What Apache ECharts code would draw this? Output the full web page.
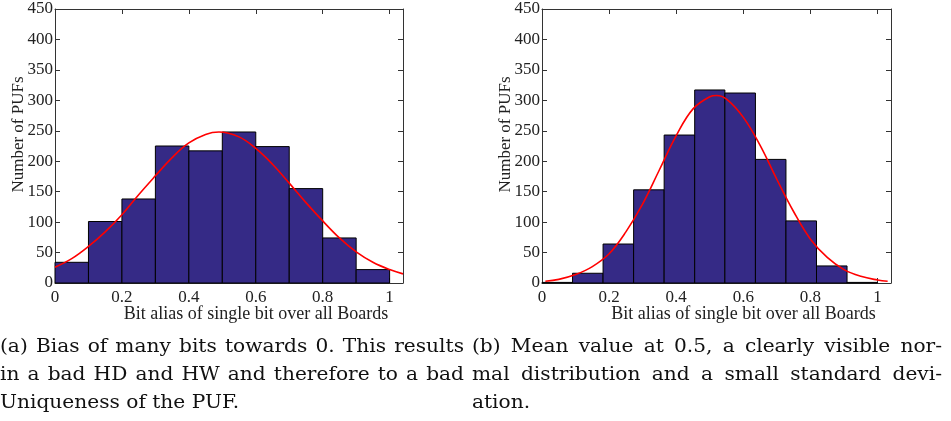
<!DOCTYPE html>
<html>
<head>
<meta charset="utf-8">
<title>Bit alias histograms</title>
<script src="https://cdn.jsdelivr.net/npm/echarts@6/dist/echarts.min.js"></script>
<style>
  html, body { margin: 0; padding: 0; background: #fff; }
  #chart { width: 951px; height: 421px; }
</style>
</head>
<body>
<div id="chart"></div>
<script>
// histogram (a): 10 bins of width 0.1
const binEdgesA = [0, 0.1, 0.2, 0.3, 0.4, 0.5, 0.6, 0.7, 0.8, 0.9, 1.0];
const countsA = [34, 101, 138, 225, 217, 248, 224, 155, 74, 22];
// fitted curve (a)
const curveAX = [0, 0.05, 0.1, 0.15, 0.2, 0.25, 0.3, 0.35, 0.4, 0.45, 0.49, 0.55, 0.6, 0.65, 0.7, 0.75, 0.8, 0.85, 0.9, 0.95, 1.0, 1.04];
const curveAY = [26, 40, 60, 84, 112, 145, 176, 206, 230, 244, 248, 240, 221, 195, 164, 132, 102, 74, 51, 34, 22, 15];

// histogram (b): 11 bins
const binEdgesB = [0, 0.091, 0.182, 0.273, 0.364, 0.455, 0.545, 0.636, 0.727, 0.818, 0.909, 1.0];
const countsB = [1, 16, 64, 153, 243, 317, 312, 203, 102, 28, 1];
// fitted curve (b)
const curveBX = [0.01, 0.05, 0.1, 0.15, 0.2, 0.25, 0.3, 0.35, 0.4, 0.45, 0.5, 0.52, 0.55, 0.6, 0.65, 0.7, 0.75, 0.8, 0.85, 0.9, 0.95, 1.0, 1.03];
const curveBY = [3, 6, 14, 27, 48, 84, 130, 186, 242, 286, 306, 308, 302, 272, 226, 170, 117, 72, 42, 22, 11, 5, 3];

const xTicks = { min: 0, max: 1.04, interval: 0.2 };
const yTicks = { min: 0, max: 450, interval: 50 };

const xName = 'Bit alias of single bit over all Boards';
const yName = 'Number of PUFs';
const captionA = ['(a) Bias of many bits towards 0.  This results', 'in a bad HD and HW and therefore to a bad', 'Uniqueness of the PUF.'];
const captionB = ['(b) Mean value at 0.5, a clearly visible nor-', 'mal distribution and a small standard devi-', 'ation.'];

const barColor = '#352a86';
const frameColor = '#333';
const serif = 'Liberation Serif';
const captionFont = '18px "DejaVu Serif"';
const captionStretch = 1.12; // the caption glyphs are wider than DejaVu at this height

function toBins(edges, counts) {
  return counts.map((c, i) => [edges[i], edges[i + 1], c]);
}
function toPoints(xs, ys) {
  return xs.map((x, i) => [x, ys[i]]);
}

function renderBar(params, api) {
  const p0 = api.coord([api.value(0), 0]);
  const p1 = api.coord([api.value(1), api.value(2)]);
  return {
    type: 'rect',
    shape: { x: p0[0], y: p1[1], width: p1[0] - p0[0], height: p0[1] - p1[1] },
    style: { fill: barColor, stroke: '#000', lineWidth: 1 }
  };
}

// bottom/left axes carry labels, top/right ones only close the box
function makeXAxis(gridIndex, bottom) {
  return Object.assign({
    type: 'value', gridIndex: gridIndex, position: bottom ? 'bottom' : 'top',
    axisLine: { show: true, onZero: false, lineStyle: { color: frameColor, width: 1 } },
    axisTick: { show: true, inside: true, length: 5, lineStyle: { color: frameColor } },
    splitLine: { show: false },
    axisLabel: {
      show: bottom, margin: 6, color: '#222', fontFamily: serif, fontSize: 17,
      formatter: v => (v > 1.01 ? '' : String(v))
    },
    name: bottom ? xName : '', nameLocation: 'middle', nameGap: 22, nameMoveOverlap: false,
    nameTextStyle: { color: '#222', fontFamily: serif, fontSize: 18, padding: [0, 0, 0, 54] }
  }, xTicks);
}
function makeYAxis(gridIndex, left) {
  return Object.assign({
    type: 'value', gridIndex: gridIndex, position: left ? 'left' : 'right',
    axisLine: { show: true, onZero: false, lineStyle: { color: frameColor, width: 1 } },
    axisTick: { show: true, inside: true, length: 5, lineStyle: { color: frameColor } },
    splitLine: { show: false },
    axisLabel: { show: left, margin: 2, color: '#222', fontFamily: serif, fontSize: 17 },
    name: left ? yName : '', nameLocation: 'middle', nameGap: 28, nameMoveOverlap: false,
    nameTextStyle: { color: '#222', fontFamily: serif, fontSize: 17, padding: [0, 0, 0, 23] }
  }, yTicks);
}

// captions are justified like the LaTeX source: spread the words of full lines
const measureCtx = document.createElement('canvas').getContext('2d');
measureCtx.font = captionFont;

function captionText(lines, x, width) {
  const tops = [347, 375, 403];
  const out = [];
  lines.forEach((line, i) => {
    const words = line.split(/\s+/);
    const widths = words.map(w => measureCtx.measureText(w).width * captionStretch);
    const used = widths.reduce((a, b) => a + b, 0);
    const last = i === lines.length - 1;
    const gap = last ? measureCtx.measureText(' ').width * captionStretch
                     : (width - used) / (words.length - 1);
    let cx = x;
    words.forEach((w, j) => {
      out.push({
        type: 'text', x: cx, y: tops[i], scaleX: captionStretch,
        style: { text: w, fill: '#111', font: captionFont, verticalAlign: 'middle' }
      });
      cx += widths[j] + gap;
    });
  });
  return out;
}

const chart = echarts.init(document.getElementById('chart'), null, { renderer: 'canvas' });
chart.setOption({
  animation: false,
  grid: [
    { left: 55, top: 9, width: 348, height: 274 },
    { left: 542, top: 9, width: 349, height: 274 }
  ],
  xAxis: [makeXAxis(0, true), makeXAxis(0, false), makeXAxis(1, true), makeXAxis(1, false)],
  yAxis: [makeYAxis(0, true), makeYAxis(0, false), makeYAxis(1, true), makeYAxis(1, false)],
  series: [
    {
      type: 'custom', xAxisIndex: 0, yAxisIndex: 0, renderItem: renderBar,
      encode: { x: [0, 1], y: 2 }, data: toBins(binEdgesA, countsA)
    },
    {
      type: 'line', xAxisIndex: 0, yAxisIndex: 0, smooth: 0.4, symbol: 'none',
      lineStyle: { color: '#ff0000', width: 1.6 }, data: toPoints(curveAX, curveAY)
    },
    {
      type: 'custom', xAxisIndex: 2, yAxisIndex: 2, renderItem: renderBar,
      encode: { x: [0, 1], y: 2 }, data: toBins(binEdgesB, countsB)
    },
    {
      type: 'line', xAxisIndex: 2, yAxisIndex: 2, smooth: 0.4, symbol: 'none',
      lineStyle: { color: '#ff0000', width: 1.6 }, data: toPoints(curveBX, curveBY)
    }
  ],
  graphic: captionText(captionA, 0, 464).concat(captionText(captionB, 472, 470))
});
</script>
</body>
</html>
